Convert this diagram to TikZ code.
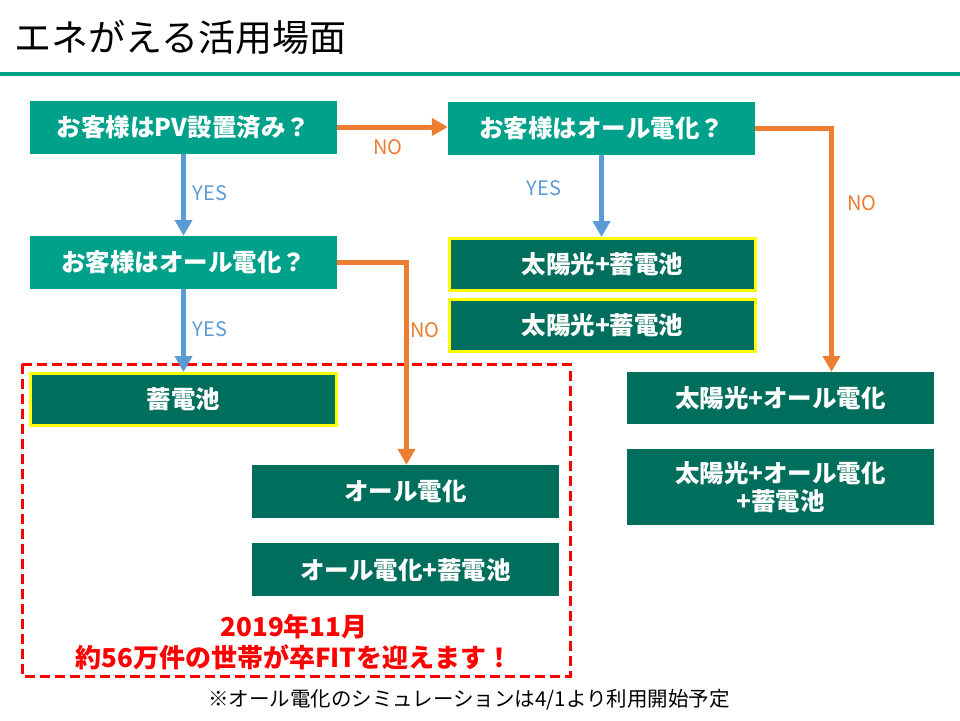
\documentclass[tikz,border=0pt]{standalone}
\usepackage{fontspec}
\setmainfont{Noto Sans CJK JP}
\usepackage{xcolor}
\usetikzlibrary{arrows.meta, positioning}
\definecolor{askteal}{HTML}{00A18A}
\definecolor{plangreen}{HTML}{006E5C}
\definecolor{ruleteal}{HTML}{00A088}
\definecolor{noorange}{HTML}{ED7D31}
\definecolor{yesblue}{HTML}{5B9BD5}
\definecolor{markyellow}{HTML}{FFFF00}
\definecolor{alertred}{HTML}{FF0000}

\begin{document}
\begin{tikzpicture}[
  x=1pt, y=-1pt,
  every node/.style={align=center, inner sep=0pt},
  box/.style={minimum width=307pt, minimum height=53pt,
              font=\fontsize{24.5}{28}\selectfont\bfseries, text=white},
  ask/.style={box, fill=askteal},
  plan/.style={box, fill=plangreen},
  pick/.style={plan, draw=markyellow, line width=3pt,
               minimum width=306pt, minimum height=52pt},
  lbl/.style={font=\fontsize{20}{22}\selectfont},
  yeslbl/.style={lbl, text=yesblue},
  nolbl/.style={lbl, text=noorange},
  yesarr/.style={draw=yesblue, line width=5pt,
                 -{Triangle[length=16pt, width=17pt]}},
  noarr/.style={draw=noorange, line width=5pt,
                -{Triangle[length=16pt, width=17pt]}}
]
\useasboundingbox (0,0) rectangle (960,720);
% title
\node[anchor=west, font=\fontsize{37}{40}\selectfont] (title) at (14,37) {エネがえる活用場面};
\draw[ruleteal, line width=4pt] (0,74) -- (960,74);
% questions
\node[ask] (Q1) at (183.5,127)   {お客様はPV設置済み？};
\node[ask] (Q2) at (601.5,128.5) {お客様はオール電化？};
\node[ask] (Q3) at (183.5,262.5) {お客様はオール電化？};
% plans
\node[pick] (A1) at (602.5,264.5) {太陽光+蓄電池};
\node[pick, below=6pt of A1] (A2) {太陽光+蓄電池};
\node[pick] (B1) at (183.5,399.5) {蓄電池};
\node[plan] (C1) at (405.5,491.5) {オール電化};
\node[plan, below=25pt of C1] (C2) {オール電化+蓄電池};
\node[plan, minimum height=52pt] (D1) at (780.5,398) {太陽光+オール電化};
\node[plan, minimum height=76pt, below=25pt of D1] (D2) {太陽光+オール電化\\+蓄電池};
% fit target
\draw[alertred, line width=3pt, dash pattern=on 10pt off 5pt] (22,364) rectangle (570,676);
\node[text=alertred, font=\fontsize{26}{31}\selectfont\bfseries] (fitnote) at (294,642)
  {2019年11月\\約56万件の世帯が卒FITを迎えます！};
\node[font=\fontsize{20.5}{24}\selectfont] (footnote) at (469,700)
  {※オール電化のシミュレーションは4/1より利用開始予定};
% connectors
\draw[noarr] (Q1.east) -- (Q1.east -| Q2.west);
\draw[yesarr] (Q1) -- (Q3);
\draw[yesarr] (Q2.south) -- (Q2.south |- A1.north);
\draw[noarr] (Q2.east) -| ([xshift=51pt]D1.north);
\draw[yesarr] (Q3.south) -- (Q3.south |- B1.north);
\draw[noarr] (Q3.east) -| ([xshift=1pt]C1.north);
% answers
\node[nolbl]  (no1)  at (388,147) {NO};
\node[yeslbl] (yes1) at (210,193) {YES};
\node[yeslbl] (yes2) at (544,188) {YES};
\node[nolbl]  (no2)  at (862,203) {NO};
\node[yeslbl] (yes3) at (210,329) {YES};
\node[nolbl]  (no3)  at (425,330) {NO};
\end{tikzpicture}
\end{document}
